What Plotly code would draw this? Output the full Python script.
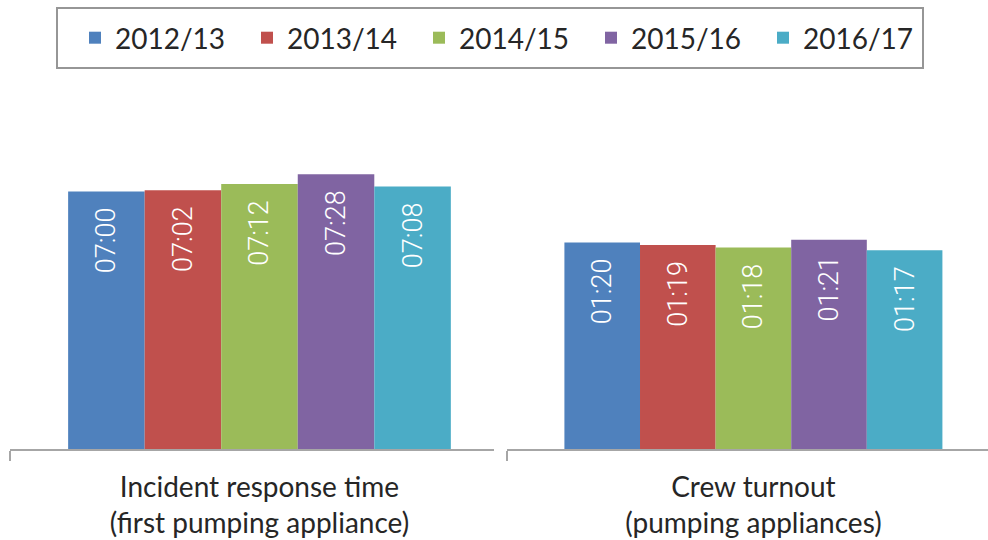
import plotly.graph_objects as go
from plotly.subplots import make_subplots

# data (mm:ss)
categories = ["Incident response time<br>(first pumping appliance)",
              "Crew turnout<br>(pumping appliances)"]
years = ["2012/13", "2013/14", "2014/15", "2015/16", "2016/17"]
response_time = ["07:00", "07:02", "07:12", "07:28", "07:08"]
crew_turnout = ["01:20", "01:19", "01:18", "01:21", "01:17"]

colors = ["#4F81BD", "#C0504D", "#9BBB59", "#8064A2", "#4BACC6"]


def to_sec(s):
    m, sec = s.split(":")
    return int(m) * 60 + int(sec)


W, H = 988, 540
top, bottom = 81, 91

fig = make_subplots(rows=1, cols=2)

for i, yr in enumerate(years):
    for col, vals in ((1, response_time), (2, crew_turnout)):
        fig.add_trace(go.Bar(
            x=[categories[col - 1]],
            y=[to_sec(vals[i])],
            name=yr,
            legendgroup=yr,
            showlegend=(col == 1),
            marker=dict(color=colors[i], line=dict(width=0)),
            text=[vals[i]],
            texttemplate="%{text}\u00a0\u00a0",
            textposition="inside",
            insidetextanchor="end",
            textangle=-90,
            textfont=dict(family="Roboto", size=27, color="white", weight=300),
            hoverinfo="skip",
        ), row=1, col=col)

axis_style = dict(
    type="category",
    showline=True, linecolor="#A6A6A6", linewidth=2,
    ticks="outside", tickson="boundaries", ticklen=10,
    tickcolor="#A6A6A6", tickwidth=2,
    showgrid=False, zeroline=False, automargin=False,
    ticklabelstandoff=12,
    tickfont=dict(family="Lato", size=28, color="#262626"),
)
fig.update_xaxes(**axis_style)
fig.update_xaxes(domain=[10 / W, 494 / W], range=[-0.5, 0.47], row=1, col=1)
fig.update_xaxes(domain=[507 / W, 1.0], range=[-0.5, 0.476], row=1, col=2)

fig.update_yaxes(visible=False, showgrid=False, zeroline=False)
fig.update_yaxes(range=[0, 600], row=1, col=1)
fig.update_yaxes(range=[0, 142.5], row=1, col=2)

plot_h = H - top - bottom
fig.add_shape(type="rect", xref="paper", yref="paper",
              x0=57 / W, x1=923 / W,
              y0=(H - bottom - 68) / plot_h, y1=(H - bottom - 8) / plot_h,
              line=dict(color="#969696", width=2), fillcolor="rgba(0,0,0,0)")

fig.update_layout(
    width=W, height=H,
    margin=dict(l=0, r=0, t=top, b=bottom),
    paper_bgcolor="white", plot_bgcolor="white",
    barmode="group", bargap=0.233, bargroupgap=0,
    showlegend=True,
    legend=dict(
        orientation="h",
        xref="container", yref="container",
        x=75 / W, xanchor="left",
        y=1 - 38 / H, yanchor="middle",
        entrywidth=127, entrywidthmode="pixels",
        itemwidth=30,
        font=dict(family="Lato", size=28, color="#262626"),
        bgcolor="rgba(0,0,0,0)",
        traceorder="normal",
    ),
    uniformtext=dict(minsize=20, mode="show"),
)

# page body has a default 8px margin; drop it so the figure sits at 0,0
fig.write_html("out.html", config={"displayModeBar": False},
               post_script="document.body.style.margin='0';")
